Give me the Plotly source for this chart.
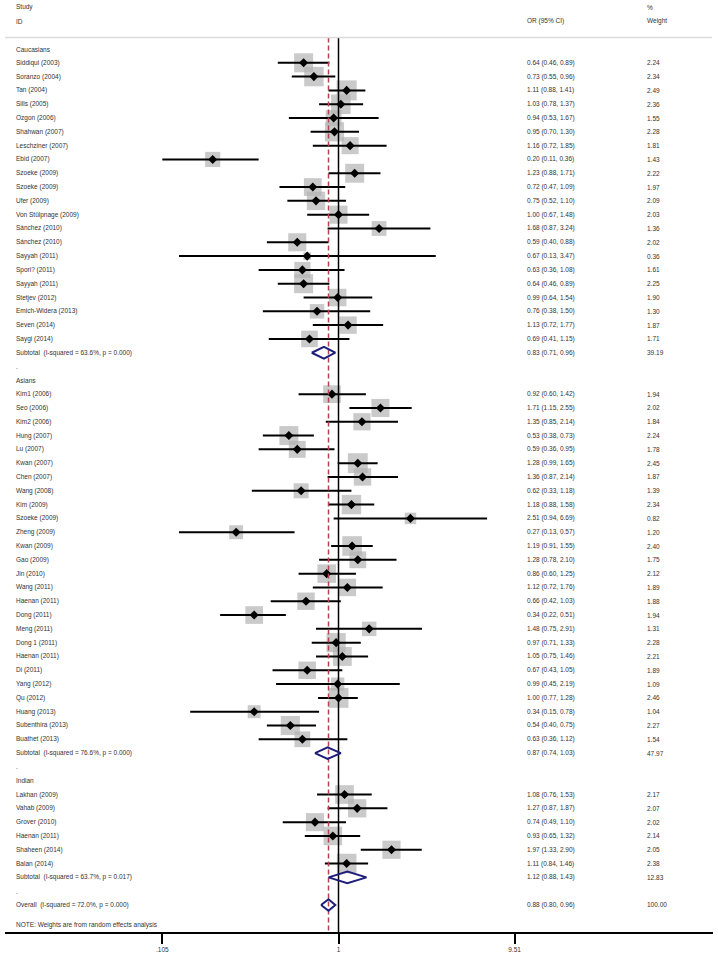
import plotly.graph_objects as go
import math

# ---------------- data ----------------
cau_names = ["Siddiqui (2003)", "Soranzo (2004)", "Tan (2004)", "Sills (2005)", "Ozgon (2006)",
             "Shahwan (2007)", "Leschziner (2007)", "Ebid (2007)", "Szoeke (2009)", "Szoeke (2009)",
             "Ufer (2009)", "Von Stülpnage (2009)", "Sánchez (2010)", "Sánchez (2010)", "Sayyah (2011)",
             "Spori? (2011)", "Sayyah (2011)", "Stetjev (2012)", "Emich-Widera (2013)", "Seven (2014)",
             "Saygi (2014)"]
cau_or = [0.64, 0.73, 1.11, 1.03, 0.94, 0.95, 1.16, 0.20, 1.23, 0.72, 0.75, 1.00, 1.68, 0.59, 0.67,
          0.63, 0.64, 0.99, 0.76, 1.13, 0.69]
cau_lo = [0.46, 0.55, 0.88, 0.78, 0.53, 0.70, 0.72, 0.105, 0.88, 0.47, 0.52, 0.67, 0.87, 0.40, 0.13,
          0.36, 0.46, 0.64, 0.38, 0.72, 0.41]
cau_hi = [0.89, 0.96, 1.41, 1.37, 1.67, 1.30, 1.85, 0.36, 1.71, 1.09, 1.10, 1.48, 3.24, 0.88, 3.47,
          1.08, 0.89, 1.54, 1.50, 1.77, 1.15]
cau_wt = [2.24, 2.34, 2.49, 2.36, 1.55, 2.28, 1.81, 1.43, 2.22, 1.97, 2.09, 2.03, 1.36, 2.02, 0.36,
          1.61, 2.25, 1.90, 1.30, 1.87, 1.71]

asi_names = ["Kim1 (2006)", "Seo (2006)", "Kim2 (2006)", "Hung (2007)", "Lu (2007)", "Kwan (2007)",
             "Chen (2007)", "Wang (2008)", "Kim (2009)", "Szoeke (2009)", "Zheng (2009)", "Kwan (2009)",
             "Gao (2009)", "Jin (2010)", "Wang (2011)", "Haenan (2011)", "Dong (2011)", "Meng (2011)",
             "Dong 1 (2011)", "Haenan (2011)", "Di (2011)", "Yang (2012)", "Qu (2012)", "Huang (2013)",
             "Subenthira (2013)", "Buathet (2013)"]
asi_or = [0.92, 1.71, 1.35, 0.53, 0.59, 1.28, 1.36, 0.62, 1.18, 2.51, 0.27, 1.19, 1.28, 0.86, 1.12,
          0.66, 0.34, 1.48, 0.97, 1.05, 0.67, 0.99, 1.00, 0.34, 0.54, 0.63]
asi_lo = [0.60, 1.15, 0.85, 0.38, 0.36, 0.99, 0.87, 0.33, 0.88, 0.94, 0.13, 0.91, 0.78, 0.60, 0.72,
          0.42, 0.22, 0.75, 0.71, 0.75, 0.43, 0.45, 0.77, 0.15, 0.40, 0.36]
asi_hi = [1.42, 2.55, 2.14, 0.73, 0.95, 1.65, 2.14, 1.18, 1.58, 6.69, 0.57, 1.55, 2.10, 1.25, 1.76,
          1.03, 0.51, 2.91, 1.33, 1.46, 1.05, 2.19, 1.28, 0.78, 0.75, 1.12]
asi_wt = [1.94, 2.02, 1.84, 2.24, 1.78, 2.45, 1.87, 1.39, 2.34, 0.82, 1.20, 2.40, 1.75, 2.12, 1.89,
          1.88, 1.94, 1.31, 2.28, 2.21, 1.89, 1.09, 2.46, 1.04, 2.27, 1.54]

ind_names = ["Lakhan (2009)", "Vahab (2009)", "Grover (2010)", "Haenan (2011)", "Shaheen (2014)",
             "Balan (2014)"]
ind_or = [1.08, 1.27, 0.74, 0.93, 1.97, 1.11]
ind_lo = [0.76, 0.87, 0.49, 0.65, 1.33, 0.84]
ind_hi = [1.53, 1.87, 1.10, 1.32, 2.90, 1.46]
ind_wt = [2.17, 2.07, 2.02, 2.14, 2.05, 2.38]

group_labels = ["Caucasians", "Asians", "Indian"]
sub_labels = ["Subtotal  (I-squared = 63.6%, p = 0.000)",
              "Subtotal  (I-squared = 76.6%, p = 0.000)",
              "Subtotal  (I-squared = 63.7%, p = 0.017)"]
sub_or = [0.83, 0.87, 1.12]
sub_lo = [0.71, 0.74, 0.88]
sub_hi = [0.96, 1.03, 1.43]
sub_wt = [39.19, 47.97, 12.83]

overall_label = "Overall  (I-squared = 72.0%, p = 0.000)"
overall_or, overall_lo, overall_hi, overall_wt = 0.88, 0.80, 0.96, 100.00

tick_vals = [0.105, 1, 9.51]
tick_text = [".105", "1", "9.51"]
note_text = "NOTE: Weights are from random effects analysis"

# ---------------- layout helpers ----------------
W, H = 718, 959
ROW0_PX, ROW_PX = 49, 13.806
ML, MR, MB = 5, 5, 27
plot_w = W - ML - MR
X_CENTER_PX, PX_PER_DEC = 338.5, 180.0
COL_STUDY, COL_OR, COL_WT = 14, 525, 645


def px2paper(px):
    return (px - ML) / plot_w


def py2row(py):
    return (py - ROW0_PX) / ROW_PX


def fmt(v):
    return f"{round(v + 1e-9, 2):.2f}"


FONT = "Arial, Liberation Sans, sans-serif"
FS = 6.5
TXT = "#333333"

annotations = []


def add_text(px, row, text):
    annotations.append(dict(x=px2paper(px), y=row, xref="paper", yref="y", text=text,
                            showarrow=False, xanchor="left", yanchor="middle",
                            font=dict(family=FONT, size=FS, color=TXT)))


groups = [
    (cau_names, cau_or, cau_lo, cau_hi, cau_wt),
    (asi_names, asi_or, asi_lo, asi_hi, asi_wt),
    (ind_names, ind_or, ind_lo, ind_hi, ind_wt),
]

study_rows, study_or, study_lo, study_hi, study_wt = [], [], [], [], []
diamonds = []
row = 0
for gi, (names, ors, los, his, wts) in enumerate(groups):
    add_text(COL_STUDY, row, group_labels[gi])
    row += 1
    for n, o, lo, hi, w in zip(names, ors, los, his, wts):
        add_text(COL_STUDY, row, n)
        add_text(COL_OR, row, f"{fmt(o)} ({fmt(lo)}, {fmt(hi)})")
        add_text(COL_WT, row, f"{w:.2f}")
        study_rows.append(row)
        study_or.append(o)
        study_lo.append(lo)
        study_hi.append(hi)
        study_wt.append(w)
        row += 1
    add_text(COL_STUDY, row, sub_labels[gi].replace("  ", "&nbsp; "))
    add_text(COL_OR, row, f"{fmt(sub_or[gi])} ({fmt(sub_lo[gi])}, {fmt(sub_hi[gi])})")
    add_text(COL_WT, row, f"{sub_wt[gi]:.2f}")
    diamonds.append((row, sub_or[gi], sub_lo[gi], sub_hi[gi]))
    row += 1
    add_text(COL_STUDY, row, ".")
    row += 1

add_text(COL_STUDY, row, overall_label.replace("  ", "&nbsp; "))
add_text(COL_OR, row, f"{fmt(overall_or)} ({fmt(overall_lo)}, {fmt(overall_hi)})")
add_text(COL_WT, row, f"{overall_wt:.2f}")
diamonds.append((row, overall_or, overall_lo, overall_hi))

# headers
add_text(COL_STUDY, py2row(7), "Study")
add_text(COL_STUDY, py2row(21), "ID")
add_text(COL_OR, py2row(21), "OR (95% CI)")
add_text(COL_WT, py2row(7), "%")
add_text(COL_WT, py2row(21), "Weight")
add_text(COL_STUDY, py2row(925), note_text)

y_top = py2row(0)
y_bot = py2row(H - MB)
sep_row = py2row(37.5)

fig = go.Figure()

# weight boxes
fig.add_trace(go.Scatter(
    x=study_or, y=study_rows, mode="markers",
    marker=dict(symbol="square", size=[12.7 * math.sqrt(w) for w in study_wt],
                color="#b4b4b4", line=dict(width=0)),
    hoverinfo="skip", showlegend=False))

# CI lines
cx, cy = [], []
for r, lo, hi in zip(study_rows, study_lo, study_hi):
    cx += [lo, hi, None]
    cy += [r, r, None]
fig.add_trace(go.Scatter(x=cx, y=cy, mode="lines", line=dict(color="black", width=2),
                         hoverinfo="skip", showlegend=False))

# point estimates
fig.add_trace(go.Scatter(x=study_or, y=study_rows, mode="markers",
                         marker=dict(symbol="diamond", size=7, color="black"),
                         hoverinfo="skip", showlegend=False))

# reference line at 1
fig.add_trace(go.Scatter(x=[1, 1], y=[sep_row, y_bot], mode="lines",
                         line=dict(color="black", width=1.5),
                         hoverinfo="skip", showlegend=False))

# overall effect dashed line
fig.add_trace(go.Scatter(x=[overall_or, overall_or], y=[sep_row, y_bot], mode="lines",
                         line=dict(color="#b04452", width=1.5, dash="5px,3px"),
                         hoverinfo="skip", showlegend=False))

# pooled diamonds
dh = 0.42
for r, o, lo, hi in diamonds:
    fig.add_trace(go.Scatter(x=[lo, o, hi, o, lo], y=[r, r - dh, r, r + dh, r], mode="lines",
                             line=dict(color="#1e1e7a", width=2),
                             hoverinfo="skip", showlegend=False))

fig.update_layout(
    width=W, height=H,
    margin=dict(l=ML, r=MR, t=0, b=MB),
    paper_bgcolor="white", plot_bgcolor="white",
    showlegend=False,
    annotations=annotations,
    shapes=[dict(type="line", xref="paper", yref="y", x0=0, x1=px2paper(712),
                 y0=sep_row, y1=sep_row, line=dict(color="#dcdcdc", width=1.5))],
    xaxis=dict(type="log",
               range=[(ML - X_CENTER_PX) / PX_PER_DEC, (W - MR - X_CENTER_PX) / PX_PER_DEC],
               tickvals=tick_vals, ticktext=tick_text,
               ticks="outside", ticklen=10, tickwidth=2, tickcolor="black",
               tickfont=dict(family=FONT, size=FS, color=TXT),
               showline=True, linecolor="black", linewidth=2,
               showgrid=False, zeroline=False, fixedrange=True),
    yaxis=dict(range=[y_bot, y_top], visible=False, showgrid=False, zeroline=False,
               fixedrange=True),
)

fig.write_html("out.html", config={"displayModeBar": False},
               post_script="document.body.style.margin='0';document.body.style.overflow='hidden';")
